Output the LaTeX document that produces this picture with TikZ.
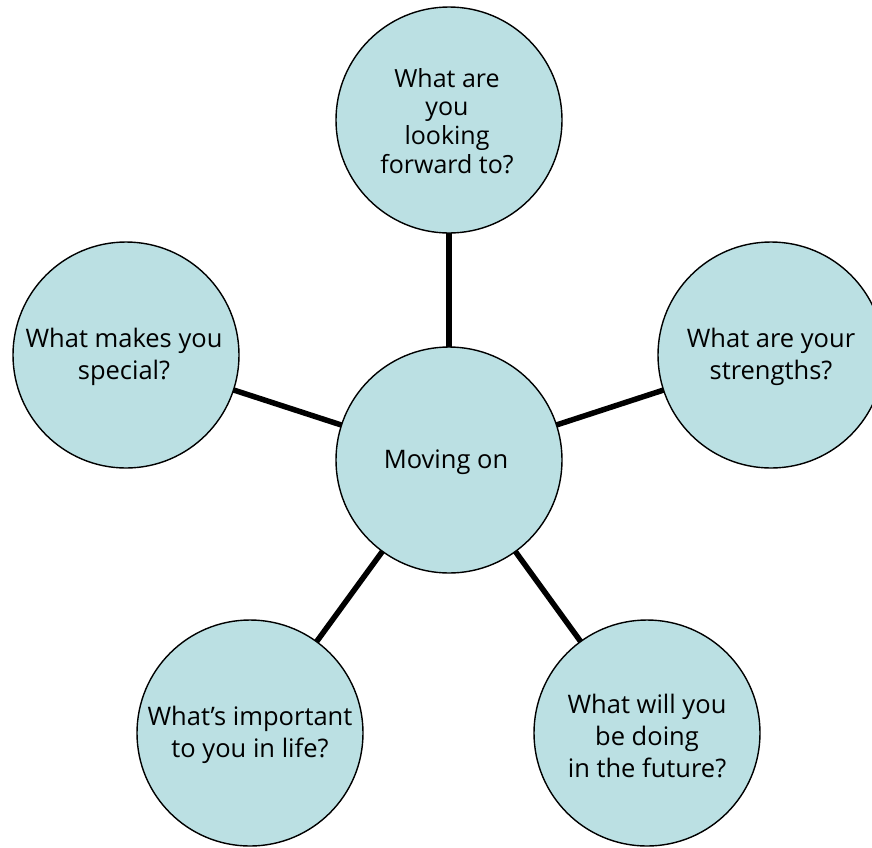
\documentclass[tikz,border=0pt]{standalone}
\usepackage{fontspec}
\setmainfont{Open Sans}
\usetikzlibrary{backgrounds}
\definecolor{bubble}{RGB}{187,224,227}
\begin{document}
\begin{tikzpicture}[x=1pt,y=-1pt,
  bub/.style={circle,draw=black,line width=1.4pt,fill=bubble,minimum size=226pt,inner sep=0pt},
  txt/.style={align=center,inner sep=0pt,font=\fontsize{25.5}{32}\selectfont},
  link/.style={line width=5.5pt,draw=black}]
\useasboundingbox (0,0) rectangle (872,847);
\node[bub] (c) at (449,460) {};
\node[bub] (t) at (449,120) {};
\node[bub] (l) at (126,355) {};
\node[bub] (r) at (771,355) {};
\node[bub] (bl) at (250,733) {};
\node[bub] (br) at (647,733) {};
\begin{scope}[on background layer]
\draw[link] (c.center) -- (t.center);
\draw[link] (c.center) -- (l.center);
\draw[link] (c.center) -- (r.center);
\draw[link] (c.center) -- (bl.center);
\draw[link] (c.center) -- (br.center);
\end{scope}
\node[txt] (tc) at (446,462) {Moving on};
\node[txt,font=\fontsize{25}{28.7}\selectfont] (tt) at (447,121) {What are\\you\\looking\\forward to?};
\node[txt] (tl) at (124,357) {What makes you\\special?};
\node[txt] (tr) at (771,357) {What are your\\strengths?};
\node[txt] (tbl) at (250,735) {What’s important\\to you in life?};
\node[txt] (tbr) at (647,736) {What will you\\be doing\\in the future?};
\end{tikzpicture}
\end{document}
